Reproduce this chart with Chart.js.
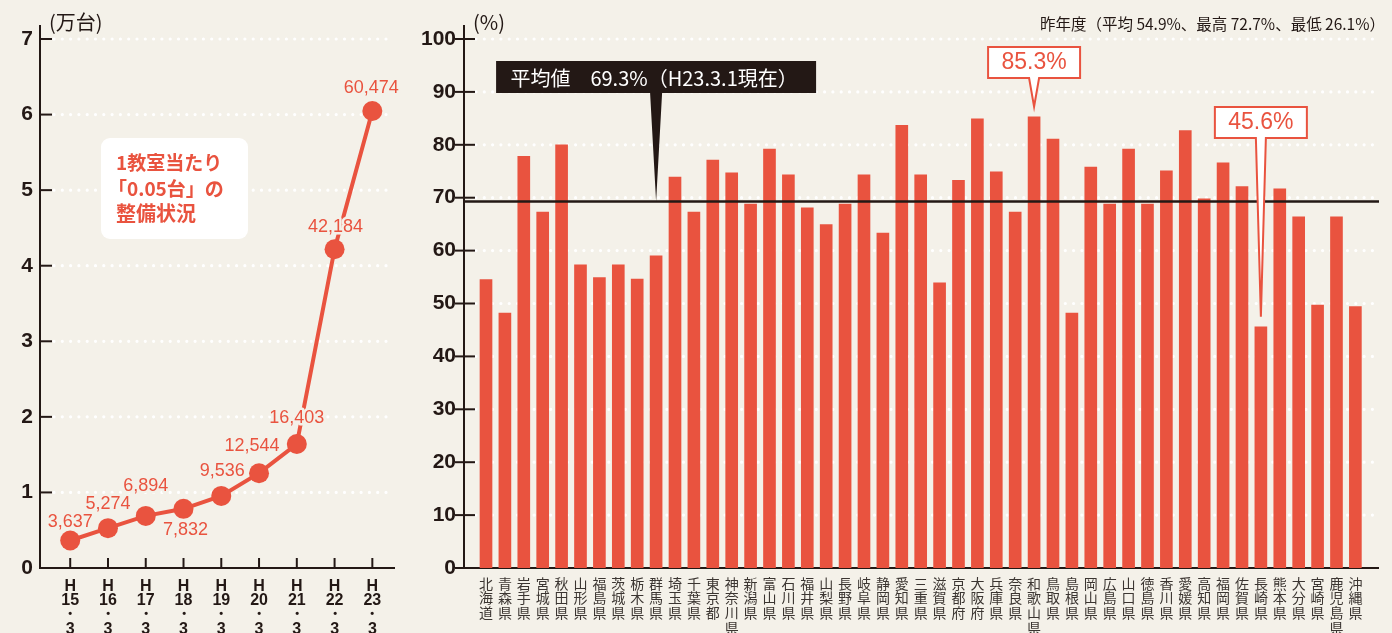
<!DOCTYPE html>
<html lang="ja">
<head>
<meta charset="utf-8">
<script src="https://cdn.jsdelivr.net/npm/chart.js@4.4.0/dist/chart.umd.min.js"></script>
<style>
  html, body { margin: 0; padding: 0; background: #f4f1e9; }
  #wrap { position: relative; width: 1392px; height: 633px; overflow: hidden; }
  #lineBox { position: absolute; left: 0; top: 0; width: 415px; height: 633px; }
  #barBox { position: absolute; left: 415px; top: 0; width: 977px; height: 633px; }
</style>
</head>
<body>
<div id="wrap">
  <div id="lineBox"><canvas id="lineChart"></canvas></div>
  <div id="barBox"><canvas id="barChart"></canvas></div>
</div>
<script>
// 左：超高速インターネット接続（台数）の推移
const yearLabels = ["H15・3", "H16・3", "H17・3", "H18・3", "H19・3", "H20・3", "H21・3", "H22・3", "H23・3"];
const units = [3637, 5274, 6894, 7832, 9536, 12544, 16403, 42184, 60474];
const unitTicks = [0, 1, 2, 3, 4, 5, 6, 7];

// 右：都道府県別の整備率（%）
const prefectures = ["北海道", "青森県", "岩手県", "宮城県", "秋田県", "山形県", "福島県", "茨城県", "栃木県", "群馬県",
  "埼玉県", "千葉県", "東京都", "神奈川県", "新潟県", "富山県", "石川県", "福井県", "山梨県", "長野県",
  "岐阜県", "静岡県", "愛知県", "三重県", "滋賀県", "京都府", "大阪府", "兵庫県", "奈良県", "和歌山県",
  "鳥取県", "島根県", "岡山県", "広島県", "山口県", "徳島県", "香川県", "愛媛県", "高知県", "福岡県",
  "佐賀県", "長崎県", "熊本県", "大分県", "宮崎県", "鹿児島県", "沖縄県"];
const rates = [54.5, 48.2, 77.8, 67.3, 80.0, 57.3, 54.9, 57.3, 54.6, 59.0,
  73.9, 67.3, 77.1, 74.7, 68.8, 79.2, 74.3, 68.1, 64.9, 68.8,
  74.3, 63.3, 83.7, 74.3, 53.9, 73.3, 84.9, 74.9, 67.3, 85.3,
  81.1, 48.2, 75.8, 68.8, 79.2, 68.8, 75.1, 82.7, 69.8, 76.6,
  72.1, 45.6, 71.7, 66.4, 49.7, 66.4, 49.4];
const rateTicks = [0, 10, 20, 30, 40, 50, 60, 70, 80, 90, 100];
const average = 69.3;

const ink = "#231815";
const red = "#e9533f";
const bg = "#f4f1e9";
const numFont = "'Liberation Sans', Arial, sans-serif";
const jpFont = "'Noto Sans CJK JP', sans-serif";

function dotted(ctx, x1, x2, y) {
  ctx.save();
  ctx.strokeStyle = "#ffffff";
  ctx.lineWidth = 3.2;
  ctx.lineCap = "round";
  ctx.setLineDash([0, 8.3]);
  ctx.beginPath();
  ctx.moveTo(x1, y);
  ctx.lineTo(x2, y);
  ctx.stroke();
  ctx.restore();
}

function line(ctx, x1, y1, x2, y2, w) {
  ctx.beginPath();
  ctx.moveTo(x1, y1);
  ctx.lineTo(x2, y2);
  ctx.lineWidth = w;
  ctx.stroke();
}

// ---------- 左のグラフ ----------
const lineDeco = {
  id: "lineDeco",
  beforeDatasetsDraw(chart) {
    const { ctx, chartArea: a, scales: { x, y } } = chart;
    unitTicks.forEach(v => { if (v > 0) dotted(ctx, a.left + 14, a.right - 2, y.getPixelForValue(v)); });

    ctx.save();
    ctx.strokeStyle = ink;
    line(ctx, a.left, a.top - 14, a.left, a.bottom + 1, 2);
    line(ctx, a.left, a.bottom, a.right, a.bottom, 2);
    unitTicks.forEach(v => line(ctx, a.left, y.getPixelForValue(v), a.left + 12, y.getPixelForValue(v), 2));
    units.forEach((_, i) => line(ctx, x.getPixelForValue(i), a.bottom - 10, x.getPixelForValue(i), a.bottom, 2));

    ctx.fillStyle = ink;
    ctx.font = "20px " + jpFont;
    ctx.textBaseline = "middle";
    ctx.fillText("(万台)", a.left + 9, 22);

    // 吹き出しボックス
    ctx.fillStyle = "#ffffff";
    ctx.beginPath();
    ctx.roundRect(101, 138, 147, 101, 9);
    ctx.fill();
    ctx.fillStyle = red;
    ctx.font = "bold 19px " + jpFont;
    ctx.fillText("1教室当たり", 116, 163);
    ctx.fillText("「0.05台」の", 108, 189);
    ctx.font = "bold 20px " + jpFont;
    ctx.fillText("整備状況", 116, 213);
    ctx.restore();
  },
  afterDatasetsDraw(chart) {
    const { ctx } = chart;
    const shift = [[0, -18], [0, -24], [0, -30], [2, 21], [1, -25], [-7, -27], [0, -26], [1, -22], [-1, -23]];
    const pts = chart.getDatasetMeta(0).data;
    ctx.save();
    ctx.font = "18px " + numFont;
    ctx.textAlign = "center";
    ctx.textBaseline = "middle";
    ctx.lineJoin = "round";
    units.forEach((v, i) => {
      const t = v.toLocaleString("en-US");
      const px = pts[i].x + shift[i][0], py = pts[i].y + shift[i][1];
      ctx.strokeStyle = bg;
      ctx.lineWidth = 5;
      ctx.strokeText(t, px, py);
      ctx.fillStyle = red;
      ctx.fillText(t, px, py);
    });
    ctx.restore();
  }
};

new Chart(document.getElementById("lineChart"), {
  type: "line",
  data: {
    datasets: [{
      data: units.map((v, i) => ({ x: i, y: v / 10000 })),
      borderColor: red,
      borderWidth: 4,
      pointRadius: 10,
      pointBackgroundColor: red,
      pointBorderWidth: 0,
      tension: 0,
      clip: false
    }]
  },
  options: {
    responsive: true,
    maintainAspectRatio: false,
    animation: false,
    layout: { padding: { top: 39, right: 20, left: 0, bottom: 0 } },
    plugins: { legend: { display: false }, tooltip: { enabled: false } },
    scales: {
      x: {
        type: "linear",
        offset: false,
        min: -0.8,
        max: 8.6,
        afterBuildTicks: s => { s.ticks = yearLabels.map((_, i) => ({ value: i })); },
        afterFit: s => { s.height = 65; },
        grid: { display: false, drawTicks: false },
        border: { display: false },
        ticks: {
          autoSkip: false,
          maxRotation: 0,
          minRotation: 0,
          padding: 11,
          color: ink,
          font: { family: numFont, size: 16, weight: "bold", lineHeight: 0.9 },
          callback: v => {
            const m = yearLabels[Math.round(v)].match(/^(H)(\d+)・(\d+)$/);
            return [m[1], m[2], "・", m[3]];
          }
        }
      },
      y: {
        min: 0,
        max: 7,
        afterBuildTicks: s => { s.ticks = unitTicks.map(v => ({ value: v })); },
        afterFit: s => { s.width = 40; },
        grid: { display: false, drawTicks: false },
        border: { display: false },
        ticks: { padding: 7, color: ink, font: { family: numFont, size: 21, weight: "bold" } }
      }
    }
  },
  plugins: [lineDeco]
});

// ---------- 右のグラフ ----------
function callout(ctx, cx, tipY, top, w, h, half, fill, stroke) {
  const l = cx - w / 2, r = cx + w / 2, b = top + h;
  ctx.beginPath();
  ctx.moveTo(l, top);
  ctx.lineTo(r, top);
  ctx.lineTo(r, b);
  ctx.lineTo(cx + half, b);
  ctx.lineTo(cx, tipY);
  ctx.lineTo(cx - half, b);
  ctx.lineTo(l, b);
  ctx.closePath();
  ctx.fillStyle = fill;
  ctx.fill();
  if (stroke) {
    ctx.strokeStyle = stroke;
    ctx.lineWidth = 2;
    ctx.lineJoin = "miter";
    ctx.stroke();
  }
}

const barDeco = {
  id: "barDeco",
  beforeDatasetsDraw(chart) {
    const { ctx, chartArea: a, scales: { y } } = chart;
    rateTicks.forEach(v => { if (v > 0) dotted(ctx, a.left + 12, a.right - 6, y.getPixelForValue(v)); });
    ctx.save();
    ctx.strokeStyle = ink;
    line(ctx, a.left, a.top - 14, a.left, a.bottom + 1, 2);
    line(ctx, a.left, a.bottom, a.right, a.bottom, 2);
    rateTicks.forEach(v => line(ctx, a.left - 9, y.getPixelForValue(v), a.left + 11, y.getPixelForValue(v), 2));

    ctx.fillStyle = ink;
    ctx.textBaseline = "middle";
    ctx.font = "20px " + jpFont;
    ctx.fillText("(%)", a.left + 9, 22);
    ctx.font = "15.5px " + jpFont;
    ctx.textAlign = "right";
    ctx.fillText("昨年度（平均 54.9%、最高 72.7%、最低 26.1%）", a.right + 6, 24);
    ctx.restore();
  },
  afterDatasetsDraw(chart) {
    const { ctx, chartArea: a, scales: { x, y } } = chart;
    const avgY = y.getPixelForValue(average);
    ctx.save();
    ctx.strokeStyle = ink;
    line(ctx, a.left, avgY, a.right, avgY, 2.5);

    // 平均値の吹き出し
    const ax = x.getPixelForValue(9);
    callout(ctx, ax, avgY, 61, 320, 32, 6, ink, null);
    ctx.fillStyle = "#ffffff";
    ctx.font = "20px " + jpFont;
    ctx.textAlign = "center";
    ctx.textBaseline = "middle";
    ctx.fillText("平均値　" + average.toFixed(1) + "%（H23.3.1現在）", ax - 2, 78);

    // 最高・最低
    const hi = rates.indexOf(Math.max(...rates));
    const lo = rates.indexOf(Math.min(...rates));
    [[hi, 47], [lo, 107]].forEach(([i, top]) => {
      const cx = x.getPixelForValue(i);
      const tip = y.getPixelForValue(rates[i]) - 10;
      callout(ctx, cx, tip, top, 92, 31, 5, "#ffffff", red);
      ctx.fillStyle = red;
      ctx.font = "23px " + numFont;
      ctx.fillText(rates[i].toFixed(1) + "%", cx, top + 16);
    });
    ctx.restore();
  }
};

new Chart(document.getElementById("barChart"), {
  type: "bar",
  data: {
    datasets: [{
      data: rates.map((v, i) => ({ x: i, y: v })),
      backgroundColor: red,
      barThickness: 12
    }]
  },
  options: {
    responsive: true,
    maintainAspectRatio: false,
    animation: false,
    layout: { padding: { top: 39, right: 13, left: 0, bottom: 0 } },
    plugins: { legend: { display: false }, tooltip: { enabled: false } },
    scales: {
      x: {
        type: "linear",
        offset: false,
        min: -1.164,
        max: 47.25,
        afterBuildTicks: s => { s.ticks = prefectures.map((_, i) => ({ value: i })); },
        afterFit: s => { s.height = 65; },
        grid: { display: false, drawTicks: false },
        border: { display: false },
        ticks: {
          autoSkip: false,
          maxRotation: 0,
          minRotation: 0,
          padding: 8,
          color: "#3b3531",
          font: { family: jpFont, size: 14, lineHeight: 1.05 },
          callback: v => prefectures[Math.round(v)].split("")
        }
      },
      y: {
        min: 0,
        max: 100,
        afterBuildTicks: s => { s.ticks = rateTicks.map(v => ({ value: v })); },
        afterFit: s => { s.width = 49; },
        grid: { display: false, drawTicks: false },
        border: { display: false },
        ticks: { padding: 8, color: ink, font: { family: numFont, size: 21, weight: "bold" } }
      }
    }
  },
  plugins: [barDeco]
});
</script>
</body>
</html>
